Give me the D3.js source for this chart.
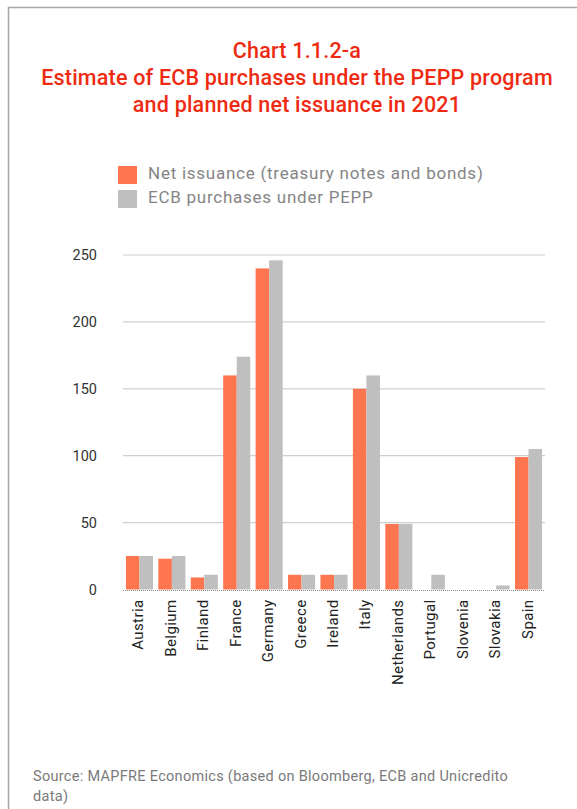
<!DOCTYPE html>
<html>
<head>
<meta charset="utf-8">
<script src="https://cdn.jsdelivr.net/npm/d3@7"></script>
<style>
  body { margin: 0; background: #fff; }
  svg { display: block; }
</style>
</head>
<body>
<div id="chart"></div>
<script>
const countries = ["Austria", "Belgium", "Finland", "France", "Germany", "Greece", "Ireland",
  "Italy", "Netherlands", "Portugal", "Slovenia", "Slovakia", "Spain"];
const netIssuance = [25, 23, 9, 160, 240, 11, 11, 150, 49, 0, 0, 0, 99];
const ecbPurchases = [25, 25, 11, 174, 246, 11, 11, 160, 49, 11, 0, 3, 105];
const yTicks = [0, 50, 100, 150, 200, 250];
const titleLines = ["Chart 1.1.2-a", "Estimate of ECB purchases under the PEPP program", "and planned net issuance in 2021"];
const seriesNames = ["Net issuance (treasury notes and bonds)", "ECB purchases under PEPP"];
const sourceLines = ["Source: MAPFRE Economics (based on Bloomberg, ECB and Unicredito", "data)"];

const W = 577, H = 809;
const margin = {top: 255, right: 32, bottom: 219, left: 123};
const colors = ["#fd7650", "#bfbfbf"];
const font = "Roboto, 'Noto Sans', sans-serif";

const svg = d3.select("#chart").append("svg")
  .attr("width", W)
  .attr("height", H);

// frame
svg.append("path")
  .attr("d", `M8.5,${H} V7.5 H${W}`)
  .attr("fill", "none")
  .attr("stroke", "#a6a6a6")
  .attr("stroke-width", 1.5);

// title
svg.append("g")
  .selectAll("text")
  .data(titleLines)
  .join("text")
    .attr("x", 297)
    .attr("y", (d, i) => 58 + i * 27)
    .attr("text-anchor", "middle")
    .attr("fill", "#ee2b12")
    .style("font-family", font)
    .style("font-size", "21.5px")
    .style("font-weight", 500)
    .style("letter-spacing", "0.2px")
    .text(d => d);

// legend
const legend = svg.append("g");
legend.selectAll("rect")
  .data(seriesNames)
  .join("rect")
    .attr("x", 118)
    .attr("y", (d, i) => 166 + i * 24)
    .attr("width", 19)
    .attr("height", 18)
    .attr("fill", (d, i) => colors[i]);
legend.selectAll("text")
  .data(seriesNames)
  .join("text")
    .attr("x", 148)
    .attr("y", (d, i) => 175 + i * 24)
    .attr("dominant-baseline", "middle")
    .attr("fill", "#858585")
    .style("font-family", font)
    .style("font-size", "17px")
    .style("letter-spacing", "0.75px")
    .text(d => d);

const x = d3.scaleBand()
  .domain(countries)
  .range([margin.left, W - margin.right])
  .paddingInner(0.165)
  .paddingOuter(0.09);

const xs = d3.scaleBand()
  .domain([0, 1])
  .range([0, x.bandwidth()]);

const y = d3.scaleLinear()
  .domain([0, 250])
  .range([H - margin.bottom - 0.5, margin.top]);

// grid
svg.append("g")
  .selectAll("line")
  .data(yTicks.filter(d => d > 0))
  .join("line")
    .attr("x1", margin.left)
    .attr("x2", W - margin.right)
    .attr("y1", d => y(d))
    .attr("y2", d => y(d))
    .attr("stroke", "#cfcfcf")
    .attr("stroke-width", 1.2);

// y axis labels
const yAxis = d3.axisLeft(y).tickValues(yTicks).tickSize(0).tickPadding(26);
svg.append("g")
  .attr("transform", `translate(${margin.left},0)`)
  .call(yAxis)
  .call(g => g.select(".domain").remove())
  .call(g => g.selectAll("text")
    .attr("fill", "#333")
    .style("font-family", font)
    .style("font-size", "14.5px"));

// bars
const groups = svg.append("g")
  .selectAll("g")
  .data(countries.map((c, i) => ({c, v: [netIssuance[i], ecbPurchases[i]]})))
  .join("g")
    .attr("transform", d => `translate(${x(d.c)},0)`);

groups.selectAll("rect")
  .data(d => d.v)
  .join("rect")
    .attr("x", (d, i) => xs(i))
    .attr("width", xs.bandwidth())
    .attr("y", d => y(d))
    .attr("height", d => y(0) - y(d))
    .attr("fill", (d, i) => colors[i]);

// baseline
svg.append("line")
  .attr("x1", margin.left)
  .attr("x2", W - margin.right)
  .attr("y1", y(0) + 1)
  .attr("y2", y(0) + 1)
  .attr("stroke", "#8c8c8c")
  .attr("stroke-width", 1)
  .attr("stroke-dasharray", "1 1");

// x labels
svg.append("g")
  .selectAll("text")
  .data(countries)
  .join("text")
    .attr("text-anchor", "end")
    .attr("dominant-baseline", "middle")
    .attr("transform", d => `translate(${x(d) + x.bandwidth() / 2},${y(0) + 10}) rotate(-90)`)
    .attr("fill", "#222")
    .style("font-family", font)
    .style("font-size", "15px")
    .style("letter-spacing", "0.4px")
    .text(d => d);

// source
svg.append("g")
  .selectAll("text")
  .data(sourceLines)
  .join("text")
    .attr("x", 33)
    .attr("y", (d, i) => 781 + i * 20)
    .attr("fill", "#7a7a7a")
    .style("font-family", font)
    .style("font-size", "14.5px")
    .style("letter-spacing", "0.3px")
    .text(d => d);
</script>
</body>
</html>
